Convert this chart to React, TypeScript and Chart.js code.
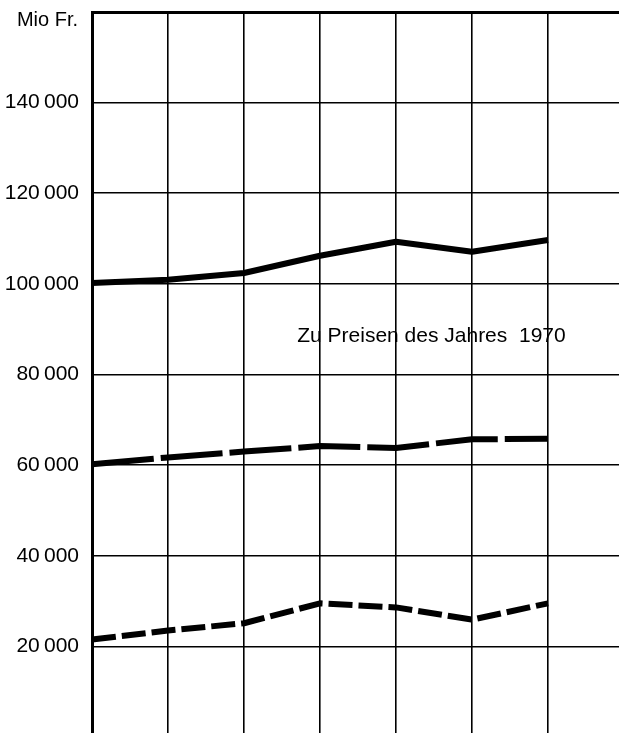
import React, { useEffect, useRef } from "react";
import { Chart, registerables } from "chart.js";

Chart.register(...registerables);

const categories = ["1970", "1971", "1972", "1973", "1974", "1975", "1976", "1977"];
const seriesSolid = [100200, 100900, 102400, 106200, 109300, 107100, 109700];
const seriesLongDash = [60200, 61700, 63000, 64200, 63800, 65700, 65800];
const seriesShortDash = [21500, 23500, 25100, 29500, 28600, 25900, 29500];
const yUnitLabel = "Mio Fr.";
const annotationText = "Zu Preisen des Jahres  1970";
const yMin = 0;
const yMax = 160000;
const yStep = 20000;

const fmt = (v: number) => {
  const s = String(Math.round(v));
  return s.replace(/\B(?=(\d{3})+(?!\d))/g, "\u2009");
};

const textPlugin = {
  id: "texts",
  afterDatasetsDraw(chart: any) {
    const { ctx, scales } = chart;
    const y = scales.y;
    const x = scales.x;
    ctx.save();
    ctx.fillStyle = "#000";
    ctx.textBaseline = "middle";
    ctx.font = "20px 'Liberation Sans', Arial, sans-serif";
    ctx.textAlign = "right";
    ctx.fillText(yUnitLabel, y.right - 14, y.getPixelForValue(yMax) + 8);
    ctx.font = "21px 'Liberation Sans', Arial, sans-serif";
    ctx.textAlign = "left";
    ctx.fillText(annotationText, x.getPixelForValue(2.7), y.getPixelForValue(88400));
    ctx.restore();
  },
};

export default function App() {
  const ref = useRef<HTMLCanvasElement | null>(null);
  useEffect(() => {
    if (!ref.current) return;
    const line = (data: number[], dash: number[]) => ({
      data,
      borderColor: "#000",
      backgroundColor: "#000",
      borderWidth: 6,
      borderDash: dash,
      borderCapStyle: "butt" as const,
      borderJoinStyle: "round" as const,
      pointRadius: 0,
      tension: 0,
      fill: false,
    });
    const chart = new Chart(ref.current, {
      type: "line",
      data: {
        labels: categories,
        datasets: [
          line(seriesSolid, []),
          line(seriesLongDash, [62, 7]),
          line(seriesShortDash, [24, 6]),
        ],
      },
      options: {
        animation: false,
        responsive: false,
        devicePixelRatio: 1,
        layout: { padding: { top: 12, right: 0, bottom: 0, left: 0 } },
        plugins: { legend: { display: false }, tooltip: { enabled: false } },
        scales: {
          x: {
            type: "category",
            offset: false,
            ticks: { display: false },
            border: { display: false },
            grid: { color: "#000", lineWidth: 1.6, drawTicks: false },
            afterFit: (s: any) => {
              s.height = 0;
              s.paddingLeft = 0;
              s.paddingRight = 0;
              s.paddingTop = 0;
              s.paddingBottom = 0;
            },
          },
          y: {
            min: yMin,
            max: yMax,
            border: { display: true, color: "#000", width: 3 },
            grid: {
              color: "#000",
              drawTicks: false,
              lineWidth: (c: any) => (c.tick && c.tick.value === yMax ? 3 : 1.6),
            },
            ticks: {
              stepSize: yStep,
              padding: 13,
              color: "#000",
              font: { family: "'Liberation Sans', Arial, sans-serif", size: 21 },
              callback: (v: any) => (v === yMin || v === yMax ? "" : fmt(Number(v))),
            },
            afterFit: (s: any) => {
              s.width = 92;
              s.paddingTop = 0;
              s.paddingBottom = 0;
              s.paddingLeft = 0;
              s.paddingRight = 0;
            },
          },
        },
      },
      plugins: [textPlugin],
    });
    return () => chart.destroy();
  }, []);
  return (
    <div style={{ position: "fixed", left: 0, top: 0, width: 619, height: 733, overflow: "hidden", background: "#fff" }}>
      <canvas ref={ref} width={624} height={737} style={{ display: "block", width: 624, height: 737 }} />
    </div>
  );
}
